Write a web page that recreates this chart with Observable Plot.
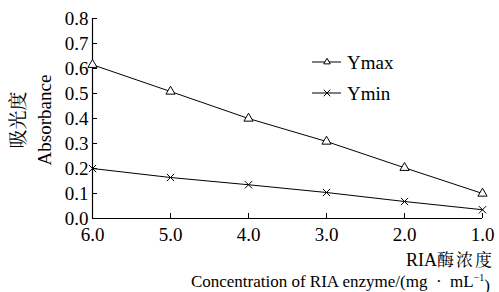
<!DOCTYPE html>
<html><head><meta charset="utf-8">
<script src="https://cdn.jsdelivr.net/npm/d3@7"></script>
<script src="https://cdn.jsdelivr.net/npm/@observablehq/plot@0.6"></script>
</head><body style="margin:0;background:#fff">
<div id="chart"></div>
<script>
const concentrations = [6.0, 5.0, 4.0, 3.0, 2.0, 1.0];
const ymaxValues = [0.615, 0.508, 0.400, 0.308, 0.203, 0.100];
const yminValues = [0.200, 0.164, 0.135, 0.104, 0.068, 0.035];
const xTicks = [6, 5, 4, 3, 2, 1];
const yTicks = [0, 0.1, 0.2, 0.3, 0.4, 0.5, 0.6, 0.7, 0.8];
const seriesNames = ["Ymax", "Ymin"];

const SERIF = "Liberation Serif, Noto Serif CJK SC, serif";
const CJK = "Noto Serif CJK SC, serif";
const ymax = concentrations.map((c, i) => ({x: c, y: ymaxValues[i]}));
const ymin = concentrations.map((c, i) => ({x: c, y: yminValues[i]}));
const fmt = d3.format(".1f");

const chart = Plot.plot({
  width: 499,
  height: 292,
  marginLeft: 92,
  marginRight: 17,
  marginTop: 18,
  marginBottom: 74,
  style: {fontFamily: SERIF, fontSize: "19px"},
  x: {domain: [6, 1], ticks: xTicks},
  y: {domain: [0, 0.8], ticks: yTicks},
  marks: [
    Plot.axisX({ticks: xTicks, tickSize: -5, text: null, label: null, stroke: "#000"}),
    Plot.axisX({ticks: xTicks, tickSize: 0, tickPadding: 9, tickFormat: fmt, label: null, fontSize: 19, fill: "#000", fontFamily: SERIF}),
    Plot.axisY({ticks: yTicks, tickSize: -5, text: null, label: null, stroke: "#000"}),
    Plot.axisY({ticks: yTicks, tickSize: 0, tickPadding: 4, tickFormat: fmt, label: null, fontSize: 19, fill: "#000", fontFamily: SERIF}),
    Plot.ruleX([6], {stroke: "#000", strokeWidth: 1.2}),
    Plot.ruleY([0], {stroke: "#000", strokeWidth: 1.2}),
    Plot.line(ymax, {x: "x", y: "y", stroke: "#000", strokeWidth: 1}),
    Plot.dot(ymax, {x: "x", y: "y", symbol: "triangle", r: 3.4, stroke: "#000", fill: "#fff", strokeWidth: 1}),
    Plot.line(ymin, {x: "x", y: "y", stroke: "#000", strokeWidth: 1}),
    Plot.dot(ymin, {x: "x", y: "y", symbol: "times", r: 3.4, stroke: "#000", strokeWidth: 1})
  ]
});

const svg = d3.select(chart);
// Legend
const legend = svg.append("g");
const syms = [d3.symbolTriangle2, d3.symbolTimes];
seriesNames.forEach((name, i) => {
  const g = legend.append("g").attr("transform", `translate(0,${62 + i * 31})`);
  g.append("line").attr("x1", 312).attr("x2", 341).attr("y1", 0).attr("y2", 0).attr("stroke", "#000");
  g.append("path").attr("transform", "translate(327,0)")
    .attr("d", d3.symbol(syms[i], 30)())
    .attr("fill", "#fff").attr("stroke", "#000");
  g.append("text").attr("x", 347).attr("y", 0).attr("dy", "0.35em")
    .attr("text-anchor", "start").attr("font-family", SERIF)
    .attr("font-size", 19).text(name);
});
// Y labels
svg.append("text").attr("transform", "translate(18,120) rotate(-90)")
  .attr("text-anchor", "middle").attr("dy", "0.35em")
  .attr("font-family", CJK).attr("font-size", 19).text("吸光度");
svg.append("text").attr("transform", "translate(44,120) rotate(-90)")
  .attr("text-anchor", "middle").attr("dy", "0.35em")
  .attr("font-family", SERIF).attr("font-size", 19).text("Absorbance");
// X labels
svg.append("text").attr("x", 494).attr("y", 260).attr("text-anchor", "end").attr("dy", "0.35em")
  .attr("font-family", SERIF).attr("font-size", 18)
  .call(t => {
    t.append("tspan").text("RIA");
    t.append("tspan").attr("font-family", CJK).attr("font-size", 17).attr("letter-spacing", 2).text("酶浓度");
  });
svg.append("text").attr("x", 490).attr("y", 281).attr("text-anchor", "end").attr("dy", "0.35em")
  .attr("font-family", SERIF).attr("font-size", 17)
  .call(t => {
    t.append("tspan").text("Concentration of RIA enzyme/(mg \u00a0·\u00a0 mL");
    t.append("tspan").attr("font-size", 10).attr("dy", "-0.6em").text("−1");
    t.append("tspan").attr("dy", "0.6em").text(")");
  });

document.getElementById("chart").appendChild(chart);
</script>
</body></html>
